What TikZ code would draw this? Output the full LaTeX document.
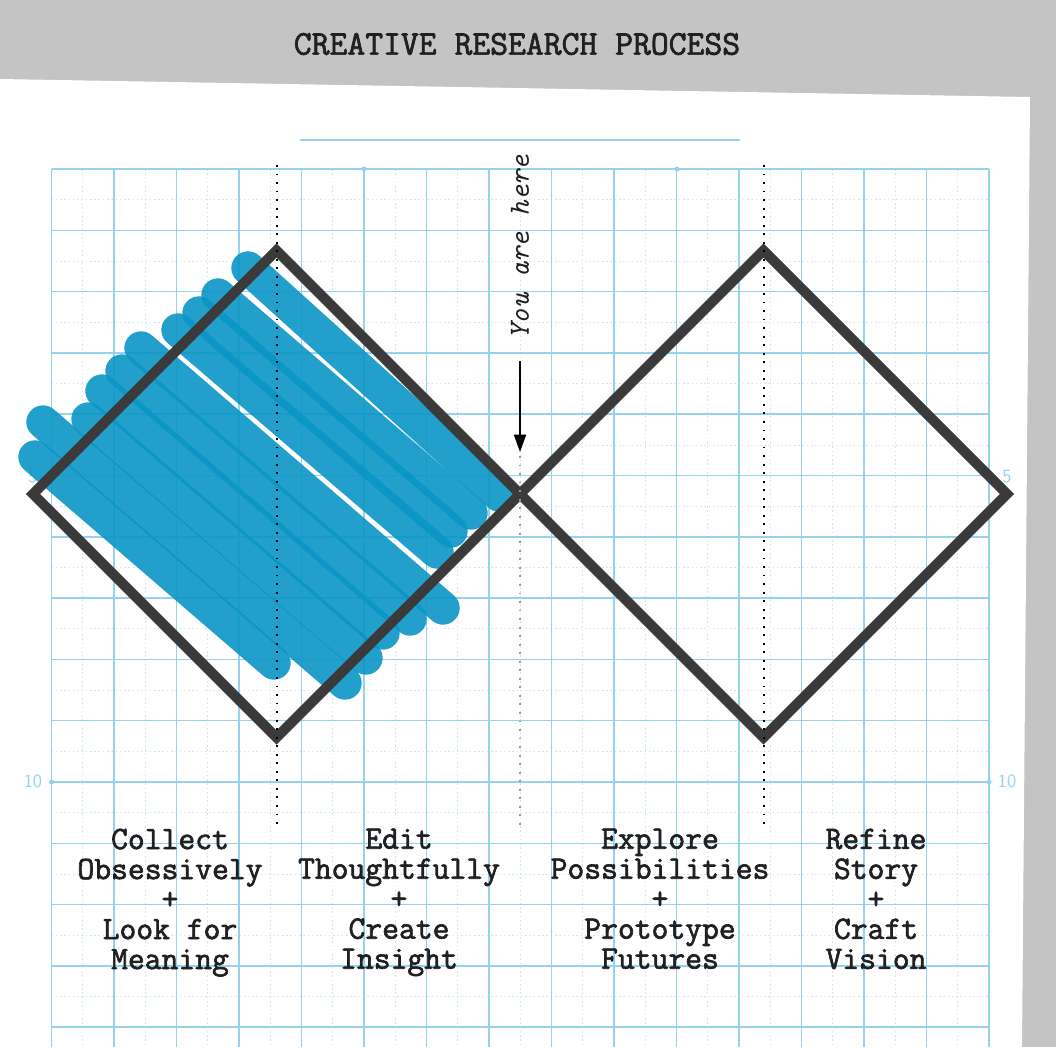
\documentclass[tikz,border=0pt]{standalone}
\usepackage{fontspec}
\newfontfamily\typefont[FakeBold=2]{Latin Modern Mono}
\newfontfamily\notefont{Latin Modern Mono}
\usetikzlibrary{arrows.meta,positioning}

\definecolor{paperblue}{RGB}{150,210,238}
\definecolor{gridfaint}{RGB}{200,232,247}
\definecolor{markerblue}{RGB}{10,150,198}
\definecolor{inkgray}{RGB}{58,58,58}
\definecolor{desk}{RGB}{196,196,196}
\definecolor{typeink}{RGB}{32,32,32}

\begin{document}
\begin{tikzpicture}[x=0.75pt,y=-0.75pt,
  grid major/.style={paperblue,line width=1.1pt},
  grid minor/.style={gridfaint,line width=0.5pt,dash pattern=on 1.2pt off 2pt},
  marker stroke/.style={markerblue,opacity=0.9,line width=25pt,line cap=round},
  diamond line/.style={inkgray,line width=7.5pt,line join=miter},
  phase rule/.style={line width=1.5pt,dash pattern=on 1.4pt off 5pt},
  phase label/.style={typeink,font=\typefont\fontsize{24.5}{22.5}\selectfont,align=center,anchor=north},
  scale number/.style={paperblue,font=\sffamily\fontsize{14}{14}\selectfont}]

  \useasboundingbox (0,0) rectangle (1056,1047);
  \fill[desk] (0,0) rectangle (1056,1047);
  \fill[white] (0,79) -- (1030,97) -- (1022,1047) -- (0,1047) -- cycle;

  \node[typeink,font=\typefont\fontsize{26}{26}\selectfont] (title) at (517,44) {CREATIVE RESEARCH PROCESS};

  % graph paper
  \foreach \x in {0,...,14}
    \draw[grid minor] ({82.75+62.5*\x},169) -- ({82.75+62.5*\x},1047);
  \foreach \y in {0,...,13}
    \draw[grid minor] (51.5,{199.65+61.3*\y}) -- (989,{199.65+61.3*\y});
  \foreach \x in {0,...,15}
    \draw[grid major] ({51.5+62.5*\x},169) -- ({51.5+62.5*\x},1047);
  \foreach \y in {0,...,14}
    \draw[grid major] (51.5,{169+61.3*\y}) -- (989,{169+61.3*\y});
  \draw[grid major,line width=1.8pt] (51.5,169) -- (989,169);
  \draw[grid major,line width=1.5pt] (51.5,782) -- (989,782);
  \draw[grid major] (300,140) -- (740,140);
  \foreach \p in {(364,169),(677,169),(51.5,782),(989,782)}
    \fill[paperblue] \p circle (2.5);

  \node[scale number] (5a) at (33,477) {5};
  \node[scale number] (5b) at (1007,477) {5};
  \node[scale number] (10a) at (33,781) {10};
  \node[scale number] (10b) at (1007,781) {10};

  % marker scribble
  \draw[marker stroke] (35,457) -- (274,663);
  \draw[marker stroke] (43,422) -- (345,683);
  \draw[marker stroke] (88,419) -- (366,658);
  \draw[marker stroke] (102,391) -- (383,633);
  \draw[marker stroke] (122,371) -- (410,619);
  \draw[marker stroke] (141,348) -- (443,608);
  \draw[marker stroke] (178,330) -- (437,552);
  \draw[marker stroke] (199,313) -- (451,531);
  \draw[marker stroke] (218,295) -- (471,513);
  \draw[marker stroke] (248,268) -- (499,495);

  % diamonds
  \coordinate (w1) at (33,494);
  \coordinate (n1) at (276.5,250.5);
  \coordinate (e1) at (520,494);
  \coordinate (s1) at (276.5,737.5);
  \coordinate (n2) at (763.5,250.5);
  \coordinate (e2) at (1007,494);
  \coordinate (s2) at (763.5,737.5);
  \draw[diamond line] (w1) -- (n1) -- (e1) -- (s1) -- cycle;
  \draw[diamond line] (e1) -- (n2) -- (e2) -- (s2) -- cycle;

  \draw[phase rule] (276.5,165) -- (276.5,828);
  \draw[phase rule] (763.5,165) -- (763.5,828);
  \draw[phase rule,gray!80] (520,456) -- (520,828);

  \node[rotate=90,typeink,font=\notefont\itshape\fontsize{22}{22}\selectfont] (here) at (520,247) {You are here};
  \coordinate (tip) at (520,452);
  \draw[-{Triangle[length=13pt,width=9pt]},line width=1.5pt,shorten <=13pt] (here) -- (tip);

  \node[phase label] (1) at (170,824) {Collect\\Obsessively\\+\\Look for\\Meaning};
  \node[phase label] (2) at (399,824) {Edit\\Thoughtfully\\+\\Create\\Insight};
  \node[phase label] (3) at (660,824) {Explore\\Possibilities\\+\\Prototype\\Futures};
  \node[phase label] (4) at (876,824) {Refine\\Story\\+\\Craft\\Vision};
\end{tikzpicture}
\end{document}
